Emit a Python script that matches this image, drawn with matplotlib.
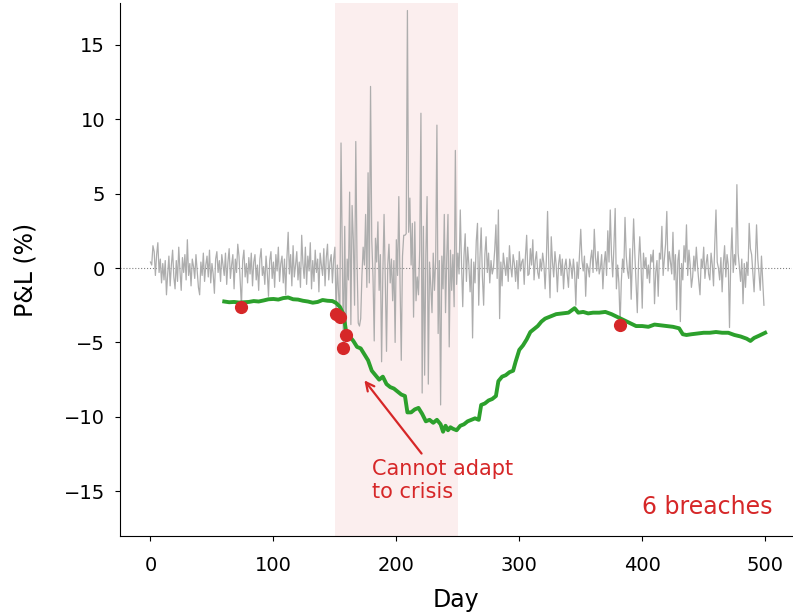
import numpy as np
import matplotlib
matplotlib.use('Agg')
import matplotlib.pyplot as plt

# Daily P&L (%), days 0..499
pnl = [
    # 0-59
    0.4, 0.2, 1.5, 1.1, -0.5, 0.9, 1.7, -0.3, 0.6, -1.0,
    0.3, -0.8, 0.5, -1.8, -0.4, 0.8, -1.2, 0.2, 1.2, -0.6,
    -1.4, 0.5, -0.9, 1.4, -0.2, -1.5, 0.7, -0.3, 0.9, -0.8,
    1.9, -0.5, 0.3, -1.2, 0.6, 0.1, -0.7, 0.9, -0.2, -1.3,
    -1.8, 0.4, -0.5, 1.0, -0.9, 0.2, 0.8, -0.6, 1.2, -1.0,
    0.3, -0.4, -1.7, 0.6, 1.1, -0.3, 0.5, -0.9, 0.9, 0.2,
    # 60-149
    -0.5, 1.0, -1.1, 0.4, 1.3, -0.7, 0.2, 0.9, -1.4, 0.6,
    -0.3, 1.6, 0.8, -0.9, -2.6, 0.5, 1.2, -0.6, 0.3, -1.0,
    0.7, -0.4, 1.0, -1.2, 0.4, 0.9, -0.8, 0.2, -1.5, 0.6,
    1.3, -0.5, 0.1, -1.1, 0.8, -0.3, -1.9, 0.5, 1.1, -0.7,
    0.4, -1.3, 0.9, -0.2, 1.4, -0.9, 0.3, 0.8, -1.0, 0.6,
    -1.8, 0.7, 2.4, -0.4, 0.9, -1.2, 1.5, -0.6, 0.2, 1.1,
    -0.8, 0.4, -1.3, 2.2, 0.3, -0.7, 1.4, -1.1, 0.8, -0.2,
    1.7, -1.4, 0.5, -0.9, 1.2, -0.3, 0.6, -1.6, 1.0, 0.2,
    -0.5, 1.3, -1.2, 0.7, 1.6, -0.8, 0.4, 0.9, -1.0, 0.6,
    # 150-249 (crisis)
    1.4, -3.1, 0.2, -1.7, -3.3, 8.4, 1.0, -5.4, 2.8, -4.5,
    0.6, -0.8, 5.1, -3.8, 4.2, 1.9, -2.5, 8.5, 0.5, -3.7,
    -3.9, -3.4, -0.5, 1.4, 0.2, 3.6, -1.3, 6.4, -1.0, 12.2,
    1.9, -0.6, -4.9, 2.0, 0.4, 3.1, -1.5, 0.9, -6.3, -0.4,
    3.6, -0.8, -5.6, 0.2, 1.6, -1.0, 0.6, -2.2, 0.5, -5.0,
    1.9, -0.5, 4.8, -1.0, -6.2, 0.8, 2.2, 2.2, 2.3, 17.3,
    2.4, 4.7, 0.2, 3.0, -3.3, 3.1, -2.2, -0.6, -1.8, 1.2,
    10.4, -8.4, 2.8, -7.2, 0.9, 4.8, -7.8, 0.4, -1.2, -3.0,
    1.0, -1.5, 0.6, 9.6, -4.4, 0.5, -9.2, 0.8, -1.4, 3.6,
    -3.0, 0.7, 3.6, -5.3, 1.2, -1.5, 0.9, -2.6, 7.9, -1.1,
    # 250-349
    1.0, -0.4, 3.9, 0.3, -2.6, 0.8, 2.3, -0.9, 1.4, 0.2,
    -1.6, 0.6, -4.7, 0.4, -1.0, 1.8, 3.0, -2.5, 0.7, 2.7,
    -0.6, -2.5, 0.9, 2.1, -0.3, 1.0, -1.0, 0.5, -0.4, 0.0,
    1.2, 2.9, -0.7, 3.9, -3.4, 0.4, -1.2, 1.0, 0.2, -0.5,
    0.7, -0.9, 1.5, 0.1, -0.6, 0.9, 0.3, -0.9, 0.5, -1.4,
    1.1, -0.2, 0.4, 0.6, -1.1, 0.8, 2.2, -0.5, -0.4, 1.3,
    0.2, 1.9, -0.8, 0.5, 1.1, -0.3, -0.7, 0.6, -0.2, 1.0,
    0.3, -1.4, 0.5, 3.8, 0.2, -2.0, 2.1, 0.4, -0.6, 1.1,
    0.2, -1.6, 0.3, 0.9, -0.5, 0.6, -1.4, 0.1, 0.6, -0.4,
    -1.3, 0.6, 0.1, -0.7, 0.6, -0.3, -2.5, 0.4, -0.7, 1.0,
    # 350-499
    2.6, 0.5, -0.2, 0.8, -1.9, 0.3, 0.0, -0.6, 0.6, 1.2,
    -0.3, 2.6, 0.7, -0.2, 1.1, -0.4, 0.0, 0.9, -1.4, 0.3,
    1.1, -0.5, 2.5, 0.4, 3.9, 0.9, -0.6, 1.5, 4.0, -1.4,
    0.2, -1.0, -3.8, -0.9, 0.6, -0.3, 3.4, 0.8, -0.2, -0.7,
    1.3, -2.1, 0.5, 3.3, 0.9, -1.1, -3.0, 0.4, 2.1, 0.3,
    -2.7, 1.0, 0.0, 0.7, -0.7, 0.2, -1.0, 0.9, 0.4, 1.2,
    -2.4, -0.3, 0.5, -1.9, 1.0, 0.6, 2.8, -0.5, 0.6, 1.6,
    3.8, -0.2, 1.1, 0.4, -0.4, 2.4, -0.8, 0.9, -2.8, 0.5,
    1.2, -3.6, 0.3, -0.8, 1.5, 0.4, 2.9, -0.5, 1.2, 0.2,
    -1.3, -0.6, 0.8, -0.2, 1.4, 0.1, -0.9, -1.8, 0.6, 0.0,
    1.4, -0.7, 0.3, 0.9, -0.4, -0.8, 1.0, 0.2, -1.2, 1.6,
    3.9, 0.4, 0.0, -0.8, 0.7, -1.6, 0.3, 1.5, -0.6, 0.9,
    0.2, -4.0, 0.5, 2.7, -0.3, 0.9, 0.2, 5.6, 1.0, 0.1,
    -0.9, 0.6, -2.4, 0.3, -1.3, 0.4, -0.5, 3.0, 1.3, 0.9,
    -0.4, -1.6, 0.5, 2.9, 0.6, -0.4, -1.5, 0.8, -0.9, -2.5,
]
days = np.arange(len(pnl))

# Rolling VaR line (%), read at sampled days
var_days = [60, 64, 68, 72, 76, 80, 84, 88, 92, 96, 100, 104, 108, 112, 116,
            120, 124, 128, 132, 136, 140, 144, 148, 151, 154, 157, 159, 162, 165,
            168, 171, 174, 177, 180, 183, 186, 189, 192, 195, 198, 201, 204, 207,
            209, 212, 215, 218, 221, 224, 227, 230, 233, 236, 238, 240, 242, 244,
            246, 249, 252, 255, 258, 261, 264, 267, 269, 272, 275, 278, 281, 283,
            286, 289, 292, 295, 297, 300, 303, 306, 309, 312, 315, 318, 321, 324,
            327, 330, 335, 340, 345, 348, 352, 356, 360, 365, 370, 375, 380, 385,
            390, 395, 400, 405, 410, 415, 420, 425, 430, 433, 436, 440, 445, 450,
            455, 460, 465, 470, 475, 480, 485, 488, 491, 495, 500]
var_vals = [-2.25, -2.3, -2.28, -2.32, -2.3, -2.28, -2.22, -2.25, -2.18, -2.1,
            -2.08, -2.12, -2.02, -1.98, -2.1, -2.12, -2.2, -2.25, -2.33, -2.28,
            -2.15, -2.2, -2.22, -2.35, -2.6, -3.1, -4.2, -4.6, -4.9, -5.3, -5.4,
            -5.8, -6.2, -6.9, -7.2, -7.5, -7.3, -7.8, -8.0, -8.1, -8.3, -8.5,
            -8.6, -9.7, -9.7, -9.5, -9.4, -9.8, -10.3, -10.2, -10.4, -10.2,
            -10.5, -11.0, -10.6, -10.9, -10.7, -10.8, -10.9, -10.6, -10.5, -10.3,
            -10.2, -10.1, -10.2, -9.2, -9.1, -8.9, -8.8, -8.6, -7.6, -7.3, -7.2,
            -7.0, -6.9, -6.3, -5.5, -5.2, -4.8, -4.3, -4.1, -3.9, -3.6, -3.4,
            -3.3, -3.2, -3.1, -3.05, -3.0, -2.7, -3.0, -2.95, -3.05, -3.0, -3.0,
            -2.95, -3.1, -3.3, -3.5, -3.7, -3.9, -3.9, -3.95, -3.8, -3.85, -3.9,
            -3.95, -4.05, -4.45, -4.5, -4.45, -4.4, -4.35, -4.35, -4.3, -4.35,
            -4.35, -4.5, -4.6, -4.75, -4.9, -4.7, -4.55, -4.35]

# Days where P&L fell below VaR
breach_days = [74, 151, 154, 157, 159, 382]
crisis_start, crisis_end = 150, 250

fig = plt.figure(figsize=(7.93, 6.16), dpi=100)
ax = fig.add_axes([0.151, 0.13, 0.848, 0.865])

# Crisis window and zero line
ax.axvspan(crisis_start, crisis_end, color='#d62728', alpha=0.08, lw=0)
ax.axhline(0, color='grey', lw=0.8, ls=':')

ax.plot(days, pnl, color='#adadad', lw=0.9)
ax.plot(var_days, var_vals, color='#2ca02c', lw=2.8)
ax.scatter(breach_days, [pnl[d] for d in breach_days], color='#d62728', s=72, zorder=5)

ax.annotate('Cannot adapt\nto crisis', xy=(172.6, -7.4), xytext=(180, -12.8),
            ha='left', va='top', color='#d62728', fontsize=15,
            arrowprops=dict(arrowstyle='->', color='#d62728', lw=1.6))
ax.text(0.97, 0.032, '6 breaches', transform=ax.transAxes, ha='right', va='bottom',
        color='#d62728', fontsize=17)

ax.set_xlim(-25, 522)
ax.set_ylim(-18, 17.8)
ax.set_yticks([-15, -10, -5, 0, 5, 10, 15])
ax.set_xlabel('Day', fontsize=17)
ax.set_ylabel('P&L (%)', fontsize=17)
ax.xaxis.set_label_coords(0.5, -0.098)
ax.yaxis.set_label_coords(-0.122, 0.5)
ax.tick_params(labelsize=14)
ax.tick_params(axis='x', pad=11)
ax.tick_params(axis='y', pad=7)
ax.spines['top'].set_visible(False)
ax.spines['right'].set_visible(False)

plt.savefig('out.png', dpi=100)
